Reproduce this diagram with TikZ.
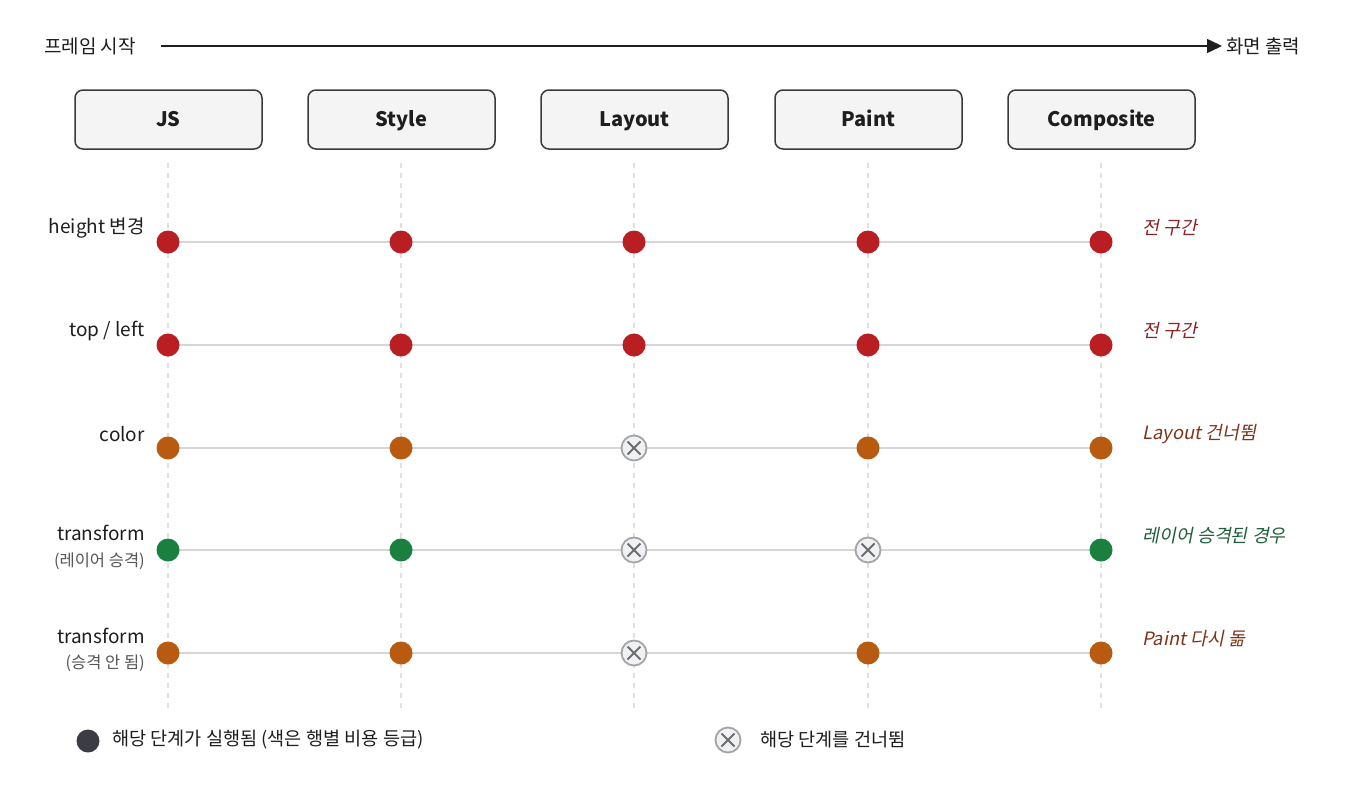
\documentclass[tikz,border=0pt]{standalone}
\usepackage{fontspec}
\setmainfont{Noto Sans CJK KR}
\newfontfamily\slfont[FakeSlant=0.2]{Noto Sans CJK KR}
\usetikzlibrary{arrows.meta,backgrounds}
\definecolor{cred}{HTML}{B81E22}
\definecolor{corange}{HTML}{B85A10}
\definecolor{cgreen}{HTML}{1A8040}
\definecolor{tred}{HTML}{8A2424}
\definecolor{tbrown}{HTML}{80341A}
\definecolor{tgreen}{HTML}{1F5E3A}
\definecolor{boxfill}{HTML}{F4F4F4}
\definecolor{boxdraw}{HTML}{3A3A3A}
\definecolor{rowline}{HTML}{D6D6D6}
\definecolor{vline}{HTML}{E0E0E0}
\definecolor{skipfill}{HTML}{F0F1F4}
\definecolor{skipdraw}{HTML}{A4A4A4}
\definecolor{skipx}{HTML}{6E6E6E}
\definecolor{legdot}{HTML}{3C3C44}
\definecolor{txt}{HTML}{1E1E1E}
\definecolor{subtxt}{HTML}{555555}
\tikzset{
  stagebox/.style={draw=boxdraw, line width=1.5pt, fill=boxfill, rounded corners=8pt,
    minimum width=187pt, minimum height=59pt, inner sep=0pt, text height=16pt, text depth=2pt,
    font=\fontsize{20}{24}\selectfont\bfseries, text=txt},
  dotnode/.style={circle, fill=#1, minimum size=23pt, inner sep=0pt},
  skipnode/.style={circle, draw=skipdraw, line width=1.8pt, fill=skipfill, minimum size=25pt, inner sep=0pt,
    path picture={\draw[skipx, line width=1.8pt] ([shift={(-6.5pt,-6.5pt)}]path picture bounding box.center) -- ([shift={(6.5pt,6.5pt)}]path picture bounding box.center);
                  \draw[skipx, line width=1.8pt] ([shift={(-6.5pt,6.5pt)}]path picture bounding box.center) -- ([shift={(6.5pt,-6.5pt)}]path picture bounding box.center);}},
  rowlabel/.style={anchor=east, font=\fontsize{19}{23}\selectfont, text=txt, inner sep=0pt},
  sublabel/.style={anchor=east, font=\fontsize{16.5}{20}\selectfont, text=subtxt, inner sep=0pt},
  note/.style={anchor=west, font=\fontsize{18.4}{22}\selectfont\slfont, inner sep=0pt},
  legtext/.style={anchor=west, font=\fontsize{18.6}{22}\selectfont, text=txt, inner sep=0pt},
  headtext/.style={anchor=west, font=\fontsize{19}{22}\selectfont, text=txt, inner sep=0pt},
  rowconn/.style={draw=rowline, line width=2pt},
  colguide/.style={draw=vline, line width=1.3pt, dash pattern=on 5pt off 5pt},
}
\begin{document}
\begin{tikzpicture}[x=1pt,y=-1pt]
\useasboundingbox (0,0) rectangle (1350,790);

% header timeline
\node[headtext] (start) at (44,46) {프레임 시작};
\node[headtext] (endl) at (1226,46) {화면 출력};
\coordinate (tlA) at (161,46);
\coordinate (tlB) at (1222,46);
\draw[line width=1.5pt, draw=txt, -{Triangle[length=15pt,width=14pt]}] (tlA) -- (tlB);

% stage boxes
\node[stagebox] (js) at (168.5,119.5) {JS};
\node[stagebox] (style) at (401.5,119.5) {Style};
\node[stagebox] (layout) at (634.5,119.5) {Layout};
\node[stagebox] (paint) at (868.5,119.5) {Paint};
\node[stagebox] (comp) at (1101.5,119.5) {Composite};

% column guides
\foreach \n/\x in {1/168,2/401,3/634,4/868,5/1101}{
  \coordinate (gt\n) at (\x,163);
  \coordinate (gb\n) at (\x,712);
}
\begin{scope}[on background layer]
\fill[white] (0,0) rectangle (1350,790);
\foreach \n in {1,...,5}{ \draw[colguide] (gt\n) -- (gb\n); }
\end{scope}

% row 1
\node[dotnode=cred] (a1) at (168,242) {};
\node[dotnode=cred] (a2) at (401,242) {};
\node[dotnode=cred] (a3) at (634,242) {};
\node[dotnode=cred] (a4) at (868,242) {};
\node[dotnode=cred] (a5) at (1101,242) {};
% row 2
\node[dotnode=cred] (b1) at (168,345) {};
\node[dotnode=cred] (b2) at (401,345) {};
\node[dotnode=cred] (b3) at (634,345) {};
\node[dotnode=cred] (b4) at (868,345) {};
\node[dotnode=cred] (b5) at (1101,345) {};
% row 3
\node[dotnode=corange] (c1) at (168,448) {};
\node[dotnode=corange] (c2) at (401,448) {};
\node[skipnode] (c3) at (634,448) {};
\node[dotnode=corange] (c4) at (868,448) {};
\node[dotnode=corange] (c5) at (1101,448) {};
% row 4
\node[dotnode=cgreen] (d1) at (168,550) {};
\node[dotnode=cgreen] (d2) at (401,550) {};
\node[skipnode] (d3) at (634,550) {};
\node[skipnode] (d4) at (868,550) {};
\node[dotnode=cgreen] (d5) at (1101,550) {};
% row 5
\node[dotnode=corange] (e1) at (168,653) {};
\node[dotnode=corange] (e2) at (401,653) {};
\node[skipnode] (e3) at (634,653) {};
\node[dotnode=corange] (e4) at (868,653) {};
\node[dotnode=corange] (e5) at (1101,653) {};

\begin{scope}[on background layer]
\foreach \r in {a,b,c,d,e}{ \draw[rowconn] (\r1.center) -- (\r5.center); }
\end{scope}

% row labels
\node[rowlabel] (la) at (145,228) {height 변경};
\node[rowlabel] (lb) at (145,331) {top / left};
\node[rowlabel] (lc) at (145,434) {color};
\node[rowlabel] (ld) at (145,533) {transform};
\node[sublabel] (ld2) at (145,561) {(레이어 승격)};
\node[rowlabel] (le) at (145,636) {transform};
\node[sublabel] (le2) at (145,663) {(승격 안 됨)};

% notes
\node[note, text=tred] (na) at (1142,228) {전 구간};
\node[note, text=tred] (nb) at (1142,331) {전 구간};
\node[note, text=tbrown] (nc) at (1142,434) {Layout 건너뜀};
\node[note, text=tgreen] (nd) at (1142,536) {레이어 승격된 경우};
\node[note, text=tbrown] (ne) at (1142,639) {Paint 다시 돎};

% legend
\node[dotnode=legdot] (legA) at (88,741) {};
\node[legtext] (legAt) at (112,740) {해당 단계가 실행됨 (색은 행별 비용 등급)};
\node[skipnode] (legB) at (728,740) {};
\node[legtext] (legBt) at (760,740) {해당 단계를 건너뜀};
\end{tikzpicture}
\end{document}
